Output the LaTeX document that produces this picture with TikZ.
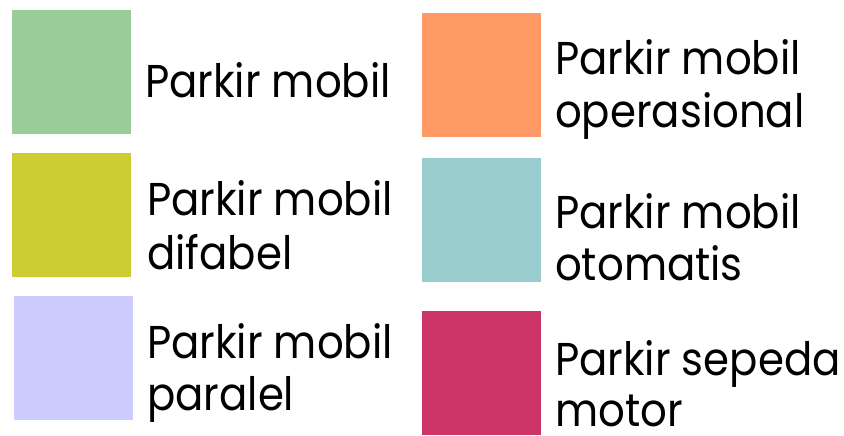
\documentclass[tikz,border=0pt]{standalone}
\usepackage{fontspec}
\setmainfont[FakeStretch=0.91]{Poppins}
\definecolor{cgreen}{HTML}{99CC99}
\definecolor{colive}{HTML}{CCCC33}
\definecolor{clav}{HTML}{CCCCFF}
\definecolor{corange}{HTML}{FF9966}
\definecolor{cteal}{HTML}{99CCCC}
\definecolor{ccrim}{HTML}{CC3366}
\begin{document}
\begin{tikzpicture}[x=1pt,y=-1pt,
  swatch/.style={minimum width=119pt,minimum height=124pt,inner sep=0pt,draw=none,anchor=north west},
  lbl/.style={anchor=base west,inner sep=0pt,font=\fontsize{46}{52}\selectfont,align=left}]
\useasboundingbox (0,0) rectangle (844,436);
\node[swatch,fill=cgreen] (s1) at (12,10) {};
\node[swatch,fill=colive] (s2) at (12,153) {};
\node[swatch,fill=clav] (s3) at (14,296) {};
\node[swatch,fill=corange] (s4) at (422,13) {};
\node[swatch,fill=cteal] (s5) at (422,158) {};
\node[swatch,fill=ccrim] (s6) at (422,311) {};
\node[lbl] (t1) at (145,97) {Parkir mobil};
\node[lbl] (t2a) at (147,215) {Parkir mobil};
\node[lbl] (t2b) at (147,269) {difabel};
\node[lbl] (t3a) at (147,358) {Parkir mobil};
\node[lbl] (t3b) at (147,410) {paralel};
\node[lbl] (t4a) at (555,75) {Parkir mobil};
\node[lbl] (t4b) at (555,128) {operasional};
\node[lbl] (t5a) at (555,228) {Parkir mobil};
\node[lbl] (t5b) at (555,280) {otomatis};
\node[lbl] (t6a) at (555,375) {Parkir sepeda};
\node[lbl] (t6b) at (555,426) {motor};
\end{tikzpicture}
\end{document}
